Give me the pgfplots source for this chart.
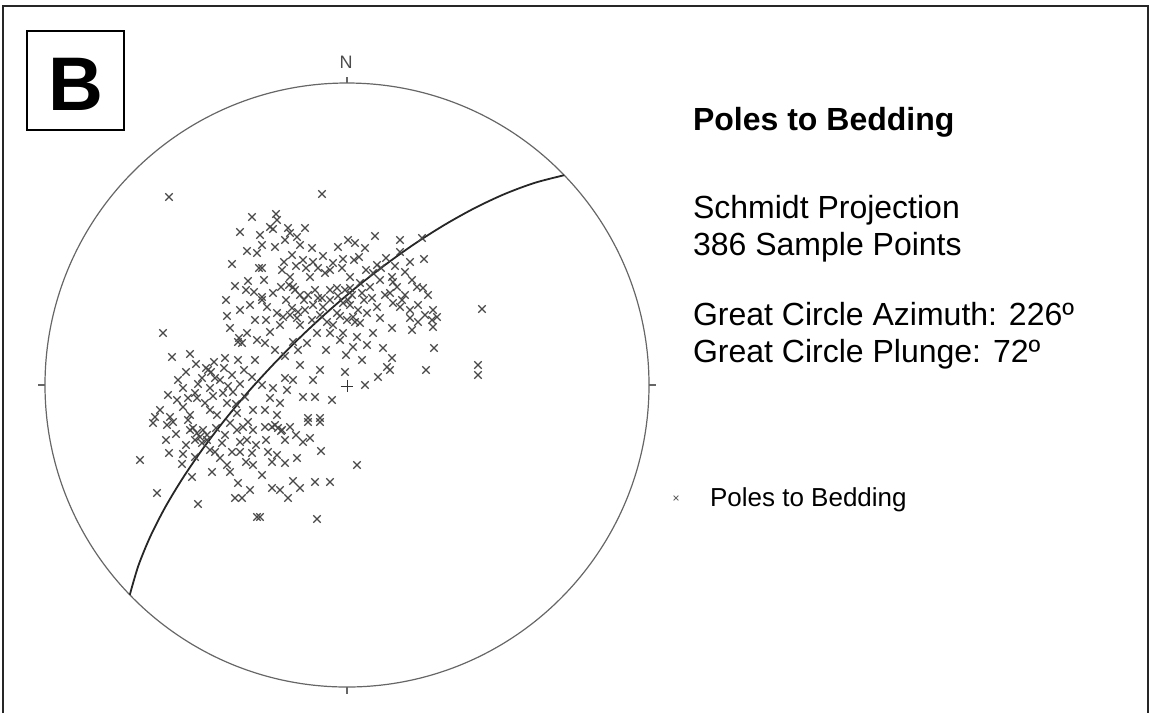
\documentclass[border=0pt]{standalone}
\usepackage{pgfplots}
\pgfplotsset{compat=1.18}
\usepackage{fontspec}
\setmainfont{Liberation Sans}
\begin{document}
\begin{tikzpicture}
\begin{axis}[name=ax, hide axis, clip=false, scale only axis,
  x=0.5pt, y=0.5pt, xmin=0, xmax=1155, ymin=0, ymax=714, y dir=reverse]
% outer frame and B box
\draw[black!85, line width=1pt] (axis cs:3,713) -- (axis cs:3,6) -- (axis cs:1148,6) -- (axis cs:1148,713);
\draw[black, line width=1pt] (axis cs:27,31) rectangle (axis cs:124,130);
\node[font=\fontsize{38}{40}\selectfont\bfseries] at (axis cs:75.5,84) {B};
% primitive circle
\draw[black!60, line width=0.6pt] (axis cs:347,385) circle [radius=151pt];
\draw[black!60, line width=0.6pt] (axis cs:347,83) -- (axis cs:347,77);
\draw[black!60, line width=0.6pt] (axis cs:347,687) -- (axis cs:347,694);
\draw[black!60, line width=0.6pt] (axis cs:45,385) -- (axis cs:38,385);
\draw[black!60, line width=0.6pt] (axis cs:649,385) -- (axis cs:656,385);
\node[font=\fontsize{9}{10}\selectfont, text=black!70] at (axis cs:346,62) {N};
% great circle
\addplot[black!85, line width=0.9pt, smooth, no markers] coordinates {
(564.2,175.2) (534.8,182.8) (505.1,193.8) (475.2,207.8) (445.3,224.4) (415.4,243.3)
(385.9,264.3) (356.7,287.0) (328.2,311.3) (300.6,336.9) (274.0,363.7) (248.7,391.3)
(225.0,419.6) (203.0,448.5) (183.1,477.6) (165.4,506.9) (150.4,536.3) (138.4,565.6) (129.8,594.8)};
% centre cross
\addplot[only marks, mark=+, mark size=3.2pt, mark options={black!80, line width=0.5pt}] coordinates {(347,386)};
% poles
\addplot[only marks, mark=x, mark size=2.6pt, mark options={black!72, line width=0.6pt}] table {
169 197
252 217
247 251
257 253
232 264
259 268
248 281
235 286
254 292
322 194
276 214
277 220
270 227
273 229
288 228
290 233
297 237
275 247
355 243
375 236
292 255
262 268
282 270
303 260
313 262
323 256
333 263
343 259
354 260
359 257
377 265
386 258
290 277
310 277
325 273
350 277
373 273
281 287
293 287
337 288
350 288
360 283
370 287
273 293
380 280
422 238
424 259
400 252
392 277
393 282
397 287
417 287
423 288
428 295
390 293
163 333
172 357
190 354
225 358
238 360
227 316
240 310
250 305
230 328
238 342
247 333
257 340
208 370
202 378
215 378
183 388
195 393
210 388
223 393
233 392
252 377
177 400
183 407
205 403
210 410
227 403
245 397
155 417
170 417
190 415
217 415
237 413
253 410
267 307
277 313
283 317
290 315
297 318
305 310
313 305
323 307
337 313
347 320
353 317
360 323
367 313
377 307
270 332
265 343
275 350
293 342
307 343
317 333
330 333
343 333
353 347
357 337
367 345
373 333
383 348
387 367
378 377
345 372
365 385
313 380
285 378
293 380
262 385
273 388
287 390
303 397
315 397
332 400
270 398
280 403
265 410
277 415
308 418
320 418
393 303
400 307
410 310
410 318
433 310
437 317
432 320
433 327
392 328
482 309
434 348
392 358
390 370
426 370
478 365
478 375
153 423
167 425
173 422
190 430
197 433
203 430
207 435
195 440
202 443
230 423
237 430
243 427
253 430
240 442
247 440
140 460
169 453
183 454
182 464
195 457
192 477
215 452
220 458
227 465
230 472
212 472
240 452
252 453
253 465
157 493
198 504
235 498
242 498
257 517
265 427
272 427
278 428
282 430
290 427
308 422
320 422
303 442
321 451
268 452
277 455
272 462
285 463
297 458
357 465
272 488
280 490
293 481
300 488
288 498
315 482
330 482
317 519
260 517
289 285
295 290
345 290
352 295
340 316
355 322
292 308
298 312
239 338
242 343
206 368
211 372
193 428
200 437
207 440
275 425
281 431
304 300
318 298
330 300
343 303
300 325
327 322
262 300
255 320
220 380
228 386
240 384
197 398
188 420
216 428
225 435
300 295
315 290
330 290
364 300
385 295
405 295
380 318
412 330
350 305
358 310
284 262
296 266
306 268
318 268
330 270
342 268
366 270
381 268
395 266
405 272
412 280
402 300
418 305
425 315
418 322
286 300
308 295
322 298
338 296
348 300
362 293
372 298
266 320
280 325
312 320
320 315
333 325
340 340
298 350
285 356
326 350
346 355
362 360
300 365
320 370
264 280
300 245
312 248
338 247
348 240
365 248
400 240
410 262
262 245
285 240
305 228
260 235
240 232
226 300
246 290
262 297
186 372
196 364
214 362
224 368
232 375
244 370
255 360
198 384
188 398
213 396
236 404
248 422
222 443
210 450
186 445
176 434
166 440
160 410
168 395
178 380
232 452
246 462
266 440
256 445
285 440
296 435
310 438
238 483
262 475
250 490
};
% legend and text
\addplot[only marks, mark=x, mark size=1.7pt, mark options={black!60, line width=0.4pt}] coordinates {(676,498)};
\node[anchor=base west, font=\fontsize{13}{15}\selectfont] at (axis cs:703,506) {Poles to Bedding};
\node[anchor=base west, font=\fontsize{16}{19}\selectfont\bfseries] at (axis cs:686,130) {Poles to Bedding};
\node[anchor=base west, font=\fontsize{16}{19}\selectfont] at (axis cs:686,218) {Schmidt Projection};
\node[anchor=base west, font=\fontsize{16}{19}\selectfont] at (axis cs:686,255) {386 Sample Points};
\node[anchor=base west, font=\fontsize{16}{19}\selectfont] at (axis cs:686,325) {Great Circle Azimuth: 226º};
\node[anchor=base west, font=\fontsize{16}{19}\selectfont] at (axis cs:686,362) {Great Circle Plunge: 72º};
\end{axis}
\pgfresetboundingbox
\useasboundingbox (ax.south west) rectangle (ax.north east);
\end{tikzpicture}
\end{document}
